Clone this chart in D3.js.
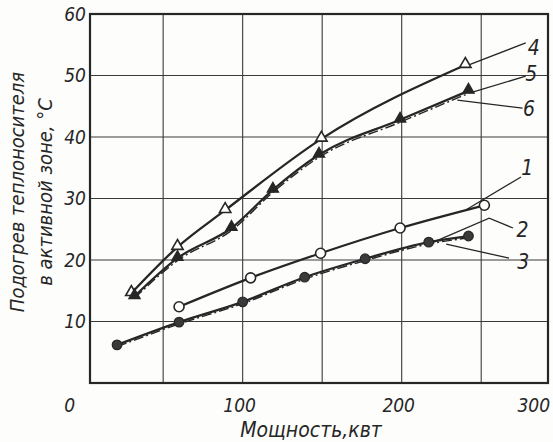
<!DOCTYPE html>
<html lang="ru">
<head>
<meta charset="UTF-8">
<title>Подогрев теплоносителя</title>
<script src="https://d3js.org/d3.v7.min.js"></script>
<style>
  body { margin: 0; background: #fdfdfb; }
  svg text {
    font-family: "Liberation Sans Narrow", "DejaVu Sans Condensed", "DejaVu Sans", sans-serif;
    font-style: italic;
    fill: #262626;
  }
</style>
</head>
<body>
<svg width="553" height="442"></svg>
<script>
// values (power, kW -> heating, °C)
const xTicks = [0, 100, 200, 300];
const yTicks = [10, 20, 30, 40, 50, 60];
const xGrid = [50, 100, 150, 200, 250];
const yGrid = [10, 20, 30, 40, 50];

const power4 = [30, 59, 89, 149.5, 240];
const heat4 = [14.6, 22.1, 28.1, 39.7, 51.7];

const power5 = [32, 59, 93, 119, 148, 199, 242];
const heat5 = [14.1, 20.3, 25.2, 31.4, 37.1, 42.8, 47.5];
const heat6 = [13.8, 19.9, 24.8, 31.0, 36.7, 42.4, 47.1];

const power1 = [60, 105, 149, 199, 252];
const heat1 = [12.4, 17.1, 21.1, 25.2, 28.9];

const power2 = [21, 60, 100, 139, 177, 217, 242];
const heat2 = [6.2, 9.9, 13.2, 17.2, 20.2, 22.9, 23.9];
const heat3 = [5.9, 9.6, 12.9, 16.9, 19.9, 22.6, 23.6];

// curve numbers and their leader lines (in data units)
const curveLabels = ["4", "5", "6", "1", "2", "3"];
const labelPos = [[283, 54.5], [281.5, 50.4], [280, 44.7], [279, 35], [276, 24.9], [276.5, 19.7]];
const leaders = [
  [[239, 51.4], [278, 55.3]],
  [[243.5, 47.2], [278, 49.9]],
  [[235, 46.0], [276, 44.7]],
  [[240, 28.1], [275, 33.5]],
  [[220, 22.9], [255, 26.8], [270, 25.2]],
  [[228, 22.6], [267.5, 20.3]]
];

const svg = d3.select("svg");
const ink = "#262626";

const x = d3.scaleLinear().domain([4, 292]).range([90, 548]);
const y = d3.scaleLinear().domain([0, 60]).range([383, 14]);

svg.append("rect").attr("width", 553).attr("height", 442).attr("fill", "#fdfdfb");

// grid
svg.append("g").selectAll("line").data(xGrid).join("line")
  .attr("x1", d => x(d)).attr("x2", d => x(d))
  .attr("y1", y(0)).attr("y2", y(60))
  .attr("stroke", "#3a3a3a").attr("stroke-width", 1.1);
svg.append("g").selectAll("line").data(yGrid).join("line")
  .attr("x1", x(4)).attr("x2", x(292))
  .attr("y1", d => y(d)).attr("y2", d => y(d))
  .attr("stroke", "#3a3a3a").attr("stroke-width", 1.1);

// frame
svg.append("rect")
  .attr("x", x(4)).attr("y", y(60))
  .attr("width", x(292) - x(4)).attr("height", y(0) - y(60))
  .attr("fill", "none").attr("stroke", ink).attr("stroke-width", 2.2);

// tick labels
svg.append("g").selectAll("text").data(yTicks).join("text")
  .attr("x", x(4) - 4).attr("y", d => y(d)).attr("dy", "0.36em")
  .attr("text-anchor", "end").attr("font-size", 19)
  .text(d => d);

svg.append("g").selectAll("text").data(xTicks).join("text")
  .attr("x", d => x(d) + (d === 0 ? -14 : d === 300 ? -27 : -3))
  .attr("y", 412)
  .attr("text-anchor", "middle").attr("font-size", 19)
  .text(d => d);

// axis titles
svg.append("text")
  .attr("x", 311).attr("y", 437)
  .attr("text-anchor", "middle").attr("font-size", 21)
  .text("Мощность,квт");

const yTitle = svg.append("text")
  .attr("transform", "translate(24,192) rotate(-90)")
  .attr("text-anchor", "middle").attr("font-size", 20);
yTitle.append("tspan").attr("x", 0).attr("y", 0).text("Подогрев теплоносителя");
yTitle.append("tspan").attr("x", 0).attr("y", 28).text("в активной зоне, °С");

// curves
const line = d3.line().x(d => x(d[0])).y(d => y(d[1])).curve(d3.curveMonotoneX);
const zip = (a, b) => a.map((v, i) => [v, b[i]]);

const series = [
  { pts: zip(power4, heat4), dash: null, w: 2.3 },
  { pts: zip(power5, heat5), dash: null, w: 2.3 },
  { pts: zip(power5, heat6), dash: "10,3,2,3", w: 1.4 },
  { pts: zip(power1, heat1), dash: null, w: 2.3 },
  { pts: zip(power2, heat2), dash: null, w: 2.3 },
  { pts: zip(power2, heat3), dash: "10,3,2,3", w: 1.4 }
];

svg.append("g").selectAll("path").data(series).join("path")
  .attr("d", d => line(d.pts))
  .attr("fill", "none").attr("stroke", ink)
  .attr("stroke-width", d => d.w)
  .attr("stroke-dasharray", d => d.dash);

// leader lines
const leaderLine = d3.line().x(d => x(d[0])).y(d => y(d[1]));
svg.append("g").selectAll("path").data(leaders).join("path")
  .attr("d", leaderLine)
  .attr("fill", "none").attr("stroke", ink).attr("stroke-width", 1.3);

// markers
const tri = d3.symbol().type(d3.symbolTriangle).size(56);
svg.append("g").selectAll("path").data(zip(power4, heat4)).join("path")
  .attr("d", tri)
  .attr("transform", d => `translate(${x(d[0])},${y(d[1]) - 1})`)
  .attr("fill", "#fff").attr("stroke", ink).attr("stroke-width", 1.6);
svg.append("g").selectAll("path").data(zip(power5, heat5)).join("path")
  .attr("d", tri)
  .attr("transform", d => `translate(${x(d[0])},${y(d[1]) - 1})`)
  .attr("fill", ink).attr("stroke", ink).attr("stroke-width", 1.2);
svg.append("g").selectAll("circle").data(zip(power1, heat1)).join("circle")
  .attr("cx", d => x(d[0])).attr("cy", d => y(d[1])).attr("r", 5)
  .attr("fill", "#fff").attr("stroke", ink).attr("stroke-width", 1.6);
svg.append("g").selectAll("circle").data(zip(power2, heat2)).join("circle")
  .attr("cx", d => x(d[0])).attr("cy", d => y(d[1])).attr("r", 4.8)
  .attr("fill", "#3a3a3a").attr("stroke", ink).attr("stroke-width", 1.2);

// curve numbers
svg.append("g").selectAll("text").data(curveLabels).join("text")
  .attr("x", (d, i) => x(labelPos[i][0])).attr("y", (d, i) => y(labelPos[i][1]))
  .attr("dy", "0.36em").attr("text-anchor", "middle").attr("font-size", 21)
  .text(d => d);
</script>
</body>
</html>
